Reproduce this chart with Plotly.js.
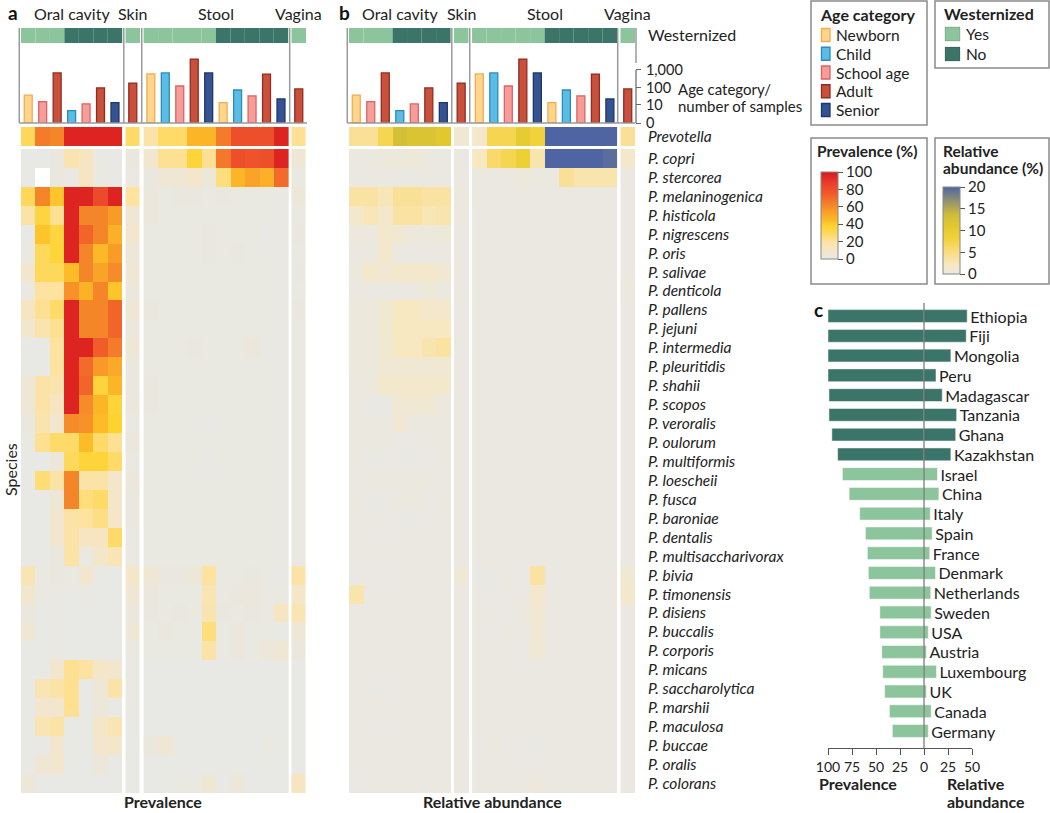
<!DOCTYPE html>
<html>
<head>
<meta charset="utf-8">
<script src="https://cdn.plot.ly/plotly-3.0.1.min.js"></script>
<style>
  html, body { margin: 0; padding: 0; background: #fff; }
  #chart { width: 1050px; height: 813px; }
</style>
</head>
<body>
<div id="chart"></div>
<script>
// columns of the two heatmaps: body site, age group, westernized or not
const sites = ['Oral cavity', 'Skin', 'Stool', 'Vagina'];
const siteOfColumn = [0, 0, 0, 0, 0, 0, 0, 1, 2, 2, 2, 2, 2, 2, 2, 2, 2, 2, 3];
const ageOfColumn = ['Newborn', 'School age', 'Adult', 'Child', 'School age', 'Adult', 'Senior',
  'Adult',
  'Newborn', 'Child', 'School age', 'Adult', 'Senior', 'Newborn', 'Child', 'School age', 'Adult', 'Senior',
  'Adult'];
const westernOfColumn = ['Yes', 'Yes', 'Yes', 'No', 'No', 'No', 'No',
  'Yes',
  'Yes', 'Yes', 'Yes', 'Yes', 'Yes', 'No', 'No', 'No', 'No', 'No',
  'Yes'];
const samplesPerColumn = [37, 15, 670, 4, 11, 95, 13, 180, 590, 670, 122, 4100, 670, 13, 72, 33, 580, 22, 83];
const ageCategories = ['Newborn', 'Child', 'School age', 'Adult', 'Senior'];
const westernCategories = ['Yes', 'No'];

const species = ['Prevotella', 'P. copri', 'P. stercorea', 'P. melaninogenica', 'P. histicola', 'P. nigrescens',
  'P. oris', 'P. salivae', 'P. denticola', 'P. pallens', 'P. jejuni', 'P. intermedia', 'P. pleuritidis',
  'P. shahii', 'P. scopos', 'P. veroralis', 'P. oulorum', 'P. multiformis', 'P. loescheii', 'P. fusca',
  'P. baroniae', 'P. dentalis', 'P. multisaccharivorax', 'P. bivia', 'P. timonensis', 'P. disiens',
  'P. buccalis', 'P. corporis', 'P. micans', 'P. saccharolytica', 'P. marshii', 'P. maculosa',
  'P. buccae', 'P. oralis', 'P. colorans'];

// prevalence (%) per species (rows) and column
const prevalence = [
  [30, 65, 62, 96, 96, 96, 96, 28, 18, 28, 28, 46, 46, 65, 80, 80, 80, 96, 22],
  [0, 0, 2, 16, 12, 1, 0, 2, 8, 22, 22, 36, 22, 66, 80, 78, 80, 96, 6],
  [0, null, 2, 1, 12, 1, 1, 1, 2, 6, 6, 9, 4, 25, 46, 52, 48, 70, 1],
  [30, 62, 42, 96, 96, 82, 96, 20, 3, 1, 2, 2, 1, 2, 1, 1, 1, 1, 4],
  [18, 35, 22, 96, 62, 62, 55, 6, 3, 1, 1, 1, 1, 1, 1, 1, 1, 1, 1],
  [0, 42, 35, 96, 72, 62, 48, 8, 1, 1, 1, 1, 2, 1, 1, 1, 0, 1, 2],
  [1, 30, 36, 96, 62, 45, 55, 4, 1, 1, 1, 1, 2, 1, 2, 1, 1, 1, 1],
  [8, 30, 30, 44, 62, 52, 60, 6, 1, 1, 1, 1, 1, 1, 1, 1, 1, 1, 2],
  [1, 20, 20, 58, 47, 62, 42, 3, 1, 1, 1, 1, 1, 1, 1, 1, 1, 1, 1],
  [12, 22, 28, 96, 62, 62, 72, 6, 2, 1, 1, 1, 1, 1, 1, 1, 1, 1, 2],
  [8, 16, 22, 96, 62, 62, 72, 3, 1, 1, 1, 1, 1, 1, 1, 1, 1, 1, 1],
  [0, 0, 20, 96, 96, 74, 65, 5, 1, 1, 1, 2, 1, 1, 1, 4, 0, 1, 1],
  [0, 0, 20, 96, 70, 56, 50, 2, 1, 1, 1, 1, 1, 1, 1, 1, 1, 1, 1],
  [5, 18, 16, 96, 72, 36, 46, 2, 2, 1, 1, 1, 1, 1, 1, 1, 1, 1, 1],
  [5, 18, 12, 96, 60, 46, 36, 3, 2, 1, 1, 1, 1, 1, 1, 1, 1, 1, 1],
  [2, 16, 8, 60, 58, 44, 38, 1, 1, 1, 1, 1, 0, 1, 1, 1, 1, 1, 1],
  [1, 22, 28, 28, 44, 28, 22, 3, 1, 1, 1, 1, 1, 1, 1, 1, 1, 1, 1],
  [0, 0, 4, 30, 36, 36, 28, 1, 1, 1, 1, 1, 0, 1, 1, 1, 1, 1, 1],
  [0, 26, 18, 62, 18, 18, 10, 3, 1, 1, 1, 1, 1, 1, 1, 1, 1, 1, 1],
  [0, 0, 5, 62, 25, 28, 10, 2, 1, 1, 1, 1, 1, 1, 1, 1, 1, 1, 1],
  [0, 0, 8, 18, 20, 24, 10, 2, 1, 1, 1, 1, 1, 1, 1, 1, 1, 1, 1],
  [0, 0, 8, 18, 12, 12, 28, 1, 1, 1, 1, 1, 1, 1, 1, 1, 1, 1, 1],
  [0, 0, 2, 18, 1, 10, 15, 1, 1, 1, 1, 1, 1, 1, 1, 1, 1, 1, 1],
  [15, 1, 2, 1, 8, 0, 0, 10, 6, 2, 2, 4, 20, 1, 1, 2, 1, 0, 18],
  [8, 1, 1, 0, 1, 0, 0, 6, 2, 1, 1, 1, 15, 1, 3, 3, 1, 1, 10],
  [2, 0, 1, 0, 0, 0, 0, 3, 2, 1, 2, 1, 16, 2, 1, 2, 1, 12, 15],
  [6, 0, 1, 0, 0, 0, 0, 5, 1, 2, 1, 1, 25, 1, 3, 1, 1, 0, 5],
  [0, 0, 1, 0, 0, 0, 0, 1, 1, 1, 1, 1, 18, 1, 3, 1, 4, 6, 3],
  [0, 0, 8, 22, 20, 10, 8, 1, 0, 0, 0, 0, 0, 0, 0, 0, 0, 0, 0],
  [0, 15, 18, 22, 0, 5, 18, 1, 0, 0, 0, 0, 0, 0, 0, 0, 0, 0, 0],
  [0, 8, 8, 22, 0, 4, 0, 1, 0, 0, 0, 0, 0, 0, 0, 0, 0, 0, 0],
  [0, 15, 18, 0, 0, 10, 15, 0, 0, 0, 0, 0, 0, 0, 0, 0, 0, 0, 0],
  [0, 0, 8, 0, 0, 8, 10, 0, 3, 6, 0, 0, 0, 0, 0, 0, 1, 0, 0],
  [0, 6, 8, 0, 0, 4, 0, 0, 0, 0, 0, 0, 0, 0, 0, 0, 0, 0, 0],
  [4, 0, 0, 0, 0, 0, 0, 0, 0, 0, 1, 1, 6, 0, 4, 0, 0, 0, 12]
];

// mean relative abundance (%) per species (rows) and column
const abundance = [
  [4, 4, 7, 13, 12, 12, 11, 1, 1.5, 7, 7, 10, 8, 21, 21, 21, 21, 21, 4],
  [0.3, 0.3, 0.5, 0.6, 0.8, 0.3, 0.3, 0.2, 2, 6, 7, 9, 3, 21, 21, 21, 21, 19.4, 1.5],
  [0.2, 0.2, 0.2, 0.2, 0.2, 0.2, 0.2, 0.2, 0.3, 0.3, 0.3, 0.6, 0.3, 0.3, 4, 3, 3, 3, 0.2],
  [3.5, 3.5, 2.5, 4, 4, 3.5, 3.5, 0.4, 0.3, 0.2, 0.2, 0.2, 0.2, 0.2, 0.2, 0.2, 0.2, 0.2, 0.2],
  [1.5, 2.5, 1.5, 3.5, 3.5, 2.5, 3, 0.3, 0.2, 0.2, 0.2, 0.2, 0.2, 0.2, 0.2, 0.2, 0.2, 0.2, 0.2],
  [0.5, 0.3, 1.5, 1, 0.5, 0.5, 0.6, 0.2, 0.2, 0.2, 0.2, 0.2, 0.2, 0.2, 0.2, 0.2, 0.2, 0.2, 0.2],
  [0.3, 0.3, 1.5, 0.2, 0.2, 0.2, 0.2, 0.2, 0.2, 0.2, 0.2, 0.2, 0.2, 0.2, 0.2, 0.2, 0.2, 0.2, 0.2],
  [0.5, 1.5, 1, 1.5, 1.5, 1.5, 1, 0.2, 0.2, 0.2, 0.2, 0.2, 0.2, 0.2, 0.2, 0.2, 0.2, 0.2, 0.2],
  [0.3, 0.2, 0.2, 0.2, 0.2, 0.8, 0.3, 0.2, 0.2, 0.2, 0.2, 0.2, 0.2, 0.2, 0.2, 0.2, 0.2, 0.2, 0.4],
  [0.5, 0.5, 1, 2, 2, 1.5, 1.5, 0.2, 0.2, 0.2, 0.2, 0.2, 0.2, 0.2, 0.2, 0.2, 0.2, 0.2, 0.2],
  [0.5, 0.5, 1.2, 2, 2, 2, 2, 0.2, 0.2, 0.2, 0.2, 0.2, 0.2, 0.2, 0.2, 0.2, 0.2, 0.2, 0.2],
  [0.5, 0.5, 1, 2, 2, 3, 3.5, 0.2, 0.2, 0.2, 0.2, 0.2, 0.2, 0.2, 0.2, 0.2, 0.2, 0.2, 0.2],
  [0.5, 0.5, 1, 1, 1, 1, 1, 0.2, 0.2, 0.2, 0.2, 0.2, 0.2, 0.2, 0.2, 0.2, 0.2, 0.2, 0.2],
  [0.3, 0.5, 1.5, 1.5, 1.5, 1.5, 1.5, 0.2, 0.2, 0.2, 0.2, 0.2, 0.2, 0.2, 0.2, 0.2, 0.2, 0.2, 0.2],
  [0.3, 0.1, 0.1, 1, 1, 1, 0.3, 0.2, 0.2, 0.2, 0.2, 0.2, 0.2, 0.2, 0.2, 0.2, 0.2, 0.2, 0.2],
  [0.3, 0.3, 0.3, 1, 0.3, 0.3, 0.3, 0.2, 0.2, 0.2, 0.2, 0.2, 0.2, 0.2, 0.2, 0.2, 0.2, 0.2, 0.2],
  [0.3, 0.3, 0.3, 0.1, 0.1, 0.3, 0.3, 0.2, 0.2, 0.2, 0.2, 0.2, 0.2, 0.2, 0.2, 0.2, 0.2, 0.2, 0.2],
  [0.3, 0.1, 0.1, 0.1, 0.1, 0.1, 0.3, 0.2, 0.2, 0.2, 0.2, 0.2, 0.2, 0.2, 0.2, 0.2, 0.2, 0.2, 0.2],
  [0.3, 0.3, 0.3, 0.3, 0.4, 0.3, 0.3, 0.2, 0.2, 0.2, 0.2, 0.2, 0.2, 0.2, 0.2, 0.2, 0.2, 0.2, 0.2],
  [0.3, 0.1, 0.1, 0.3, 0.4, 0.1, 0.3, 0.2, 0.2, 0.2, 0.2, 0.2, 0.2, 0.2, 0.2, 0.2, 0.2, 0.2, 0.2],
  [0.2, 0.2, 0.2, 0.1, 0.1, 0.2, 0.2, 0.2, 0.2, 0.2, 0.2, 0.2, 0.2, 0.2, 0.2, 0.2, 0.2, 0.2, 0.2],
  [0.2, 0.2, 0.1, 0.2, 0.2, 0.2, 0.2, 0.2, 0.2, 0.2, 0.2, 0.2, 0.2, 0.2, 0.2, 0.2, 0.2, 0.2, 0.2],
  [0.2, 0.2, 0.2, 0.2, 0.2, 0.2, 0.2, 0.2, 0.2, 0.2, 0.2, 0.2, 0.2, 0.2, 0.2, 0.2, 0.2, 0.2, 0.2],
  [0.1, 0.2, 0.1, 0.2, 0.2, 0.2, 0.2, 0.8, 0.1, 0.1, 0.2, 0.1, 3.5, 0.2, 0.2, 0.2, 0.2, 0.2, 1],
  [3, 0.2, 0.2, 0.2, 0.2, 0.2, 0.2, 0.2, 0.2, 0.1, 0.2, 0.2, 1.5, 0.2, 0.2, 0.2, 0.2, 0.2, 1.5],
  [0.2, 0.2, 0.2, 0.2, 0.2, 0.2, 0.2, 0.2, 0.2, 0.2, 0.1, 0.5, 1, 0.2, 0.2, 0.2, 0.2, 0.2, 0.2],
  [0.2, 0.2, 0.2, 0.2, 0.2, 0.2, 0.2, 0.2, 0.2, 0.1, 0.2, 0.2, 1, 0.2, 0.2, 0.2, 0.2, 0.2, 0.2],
  [0.2, 0.2, 0.2, 0.2, 0.2, 0.2, 0.2, 0.2, 0.2, 0.2, 0.2, 0.1, 1, 0.2, 0.2, 0.2, 0.2, 0.2, 0.2],
  [0.2, 0.2, 0.2, 0.2, 0.2, 0.2, 0.2, 0.2, 0.2, 0.2, 0.2, 0.2, 0.2, 0.2, 0.2, 0.2, 0.2, 0.2, 0.2],
  [0.2, 0.1, 0.1, 0.2, 0.2, 0.2, 0.2, 0.2, 0.2, 0.2, 0.2, 0.2, 0.2, 0.2, 0.2, 0.2, 0.2, 0.2, 0.2],
  [0.2, 0.2, 0.2, 0.2, 0.2, 0.2, 0.2, 0.2, 0.2, 0.2, 0.2, 0.2, 0.2, 0.2, 0.2, 0.2, 0.2, 0.2, 0.2],
  [0.2, 0.2, 0.1, 0.2, 0.2, 0.2, 0.2, 0.2, 0.2, 0.2, 0.2, 0.2, 0.2, 0.2, 0.2, 0.2, 0.2, 0.2, 0.2],
  [0.2, 0.2, 0.2, 0.2, 0.2, 0.2, 0.2, 0.2, 0.1, 0.4, 0.2, 0.1, 0.1, 0.2, 0.2, 0.2, 0.2, 0.2, 0.2],
  [0.2, 0.2, 0.3, 0.2, 0.2, 0.2, 0.2, 0.2, 0.2, 0.2, 0.2, 0.2, 0.2, 0.2, 0.2, 0.2, 0.2, 0.2, 0.2],
  [0.1, 0.2, 0.2, 0.2, 0.2, 0.2, 0.2, 0.2, 0.2, 0.2, 0.2, 0.2, 0.5, 0.2, 0.2, 0.2, 0.2, 0.2, 0.2]
];

// panel c
const countries = ['Ethiopia', 'Fiji', 'Mongolia', 'Peru', 'Madagascar', 'Tanzania', 'Ghana', 'Kazakhstan',
  'Israel', 'China', 'Italy', 'Spain', 'France', 'Denmark', 'Netherlands', 'Sweden', 'USA', 'Austria',
  'Luxembourg', 'UK', 'Canada', 'Germany'];
const countryWestern = ['No', 'No', 'No', 'No', 'No', 'No', 'No', 'No',
  'Yes', 'Yes', 'Yes', 'Yes', 'Yes', 'Yes', 'Yes', 'Yes', 'Yes', 'Yes', 'Yes', 'Yes', 'Yes', 'Yes'];
const countryPrevalence = [100, 100, 100, 100, 99, 99, 96, 90, 85, 78, 67, 61, 59, 58, 57, 46, 46, 44, 43, 41, 36, 33];
const countryAbundance = [45, 44, 28, 12.5, 19, 34, 33, 28, 14, 15.5, 6.5, 8.5, 6, 12, 7, 7.5, 4.5, 2.5, 13, 2.5, 7.5, 4.5];

// ---- styling ----
const FONT = 'Lato, "DejaVu Sans", sans-serif';
const W = 1050, H = 813;
const px = x => x / W;
const py = y => 1 - y / H;

const ageStyle = {
  'Newborn': { fill: '#fdd68c', line: '#f2ac54' },
  'Child': { fill: '#5bbde4', line: '#2a8bbf' },
  'School age': { fill: '#f59d9b', line: '#de6260' },
  'Adult': { fill: '#c7513c', line: '#952a1e' },
  'Senior': { fill: '#35548f', line: '#1d3570' }
};
const westColor = { 'Yes': '#8cc49b', 'No': '#3b7468' };

const prevScale = [[0, '#e8e8e4'], [0.1, '#f4e6c8'], [0.2, '#fde2a0'], [0.3, '#fed85a'], [0.38, '#fed330'],
  [0.45, '#fcb827'], [0.55, '#f89c28'], [0.65, '#f47b2a'], [0.75, '#f05a2a'], [0.85, '#ec432c'], [1, '#d7191c']];
const abunScale = [[0, '#e8e8e4'], [0.1, '#f7e8c2'], [0.25, '#fbdc82'], [0.4, '#f2d23a'], [0.55, '#e2c82e'],
  [0.68, '#cfbd3a'], [0.85, '#8c8f74'], [1, '#4f64a3']];

// column geometry (cells are one unit wide, small gaps between body sites)
const siteStart = [0, 7, 8, 18, 19];
const siteX0 = [0, 7.23, 8.48, 18.71];
const colX = siteOfColumn.map((s, i) => siteX0[s] + (i - siteStart[s]));
const logSamples = samplesPerColumn.map(n => Math.log10(n + 1));

const traces = [];

function addHeatmap(matrix, xa, ya, coloraxis) {
  sites.forEach((site, s) => {
    const a = siteStart[s], b = siteStart[s + 1];
    traces.push({
      type: 'heatmap', z: [matrix[0].slice(a, b)], x0: siteX0[s], dx: 1, y0: -1.16, dy: 1,
      xaxis: xa, yaxis: ya, coloraxis: coloraxis, hoverinfo: 'skip'
    });
    traces.push({
      type: 'heatmap', z: matrix.slice(1).map(r => r.slice(a, b)), x0: siteX0[s], dx: 1, y0: 0, dy: 1,
      xaxis: xa, yaxis: ya, coloraxis: coloraxis, hoverinfo: 'skip'
    });
  });
}
addHeatmap(prevalence, 'x', 'y', 'coloraxis');
addHeatmap(abundance, 'x2', 'y2', 'coloraxis2');

// sample-count bars + westernized strip, drawn above both heatmaps
[['x3', 'y3'], ['x4', 'y4']].forEach(([xa, ya]) => {
  westernCategories.forEach(w => {
    const idx = colX.map((_, i) => i).filter(i => westernOfColumn[i] === w);
    traces.push({
      type: 'bar', x: idx.map(i => colX[i]), y: idx.map(() => 0.85), base: 4.52, width: 1,
      marker: { color: westColor[w], line: { width: 0 } },
      name: w, showlegend: false, xaxis: xa, yaxis: ya, hoverinfo: 'skip'
    });
  });
  ageCategories.forEach(age => {
    const idx = colX.map((_, i) => i).filter(i => ageOfColumn[i] === age);
    traces.push({
      type: 'bar', x: idx.map(i => colX[i]), y: idx.map(i => logSamples[i]), width: 0.55,
      marker: { color: ageStyle[age].fill, line: { color: ageStyle[age].line, width: 1.3 } },
      name: age, showlegend: false, xaxis: xa, yaxis: ya,
      customdata: idx.map(i => samplesPerColumn[i]), hovertemplate: '%{customdata}<extra>' + age + '</extra>'
    });
  });
});

// panel c
const countryColors = countryWestern.map(w => westColor[w]);
traces.push({
  type: 'bar', orientation: 'h', y: countries, x: countryPrevalence.map(v => -v), width: 0.65,
  marker: { color: countryColors, line: { color: 'rgba(255,255,255,0.5)', width: 1 } },
  xaxis: 'x5', yaxis: 'y5', showlegend: false, name: 'Prevalence'
});
traces.push({
  type: 'bar', orientation: 'h', y: countries, x: countryAbundance, width: 0.65,
  marker: { color: countryColors, line: { color: 'rgba(255,255,255,0.5)', width: 1 } },
  text: countries, textposition: 'outside', constraintext: 'none', cliponaxis: false,
  textfont: { family: FONT, size: 16, color: '#222' },
  xaxis: 'x5', yaxis: 'y5', showlegend: false, name: 'Relative abundance'
});

const hidden = { visible: false, showgrid: false, zeroline: false, fixedrange: true };
const heatXRange = [-0.5, 19.21];
const heatYRange = [33.5, -1.66];
const barYRange = [0, 5.5];
const aDom = [px(21), px(306)];
const bDom = [px(349), px(635)];

// decorative lines around the sample-count bars (pixel positions)
const unitToPx = (u, left) => left + (u + 0.5) * 14.45;
const edgeUnits = [-0.62, 6.615, 7.855, 18.095];
const shapes = [];
const line = (x0, y0, x1, y1, color, width) => ({ type: 'line', xref: 'paper', yref: 'paper',
  x0: px(x0), x1: px(x1), y0: py(y0), y1: py(y1), line: { color: color, width: width } });
const rect = (x0, y0, x1, y1, fill, stroke, width) => ({ type: 'rect', xref: 'paper', yref: 'paper',
  x0: px(x0), x1: px(x1), y0: py(y1), y1: py(y0), fillcolor: fill, line: { color: stroke, width: width } });

[21, 349].forEach(left => {
  edgeUnits.forEach(u => {
    const xp = unitToPx(u, left);
    shapes.push(line(xp, 28, xp, 123, '#9a9a9a', 1.5));
  });
  shapes.push(line(unitToPx(-0.62, left), 123, left + 286, 123, '#9a9a9a', 1.5));
});
shapes.push(line(636, 70, 636, 123, '#666', 1.2));
shapes.push(line(636, 28, 636, 63, '#9a9a9a', 1.5));

// legend boxes
[[811, 1, 927, 125], [935, 1, 1049, 68], [811, 138, 927, 284], [935, 138, 1049, 284]].forEach(b => {
  shapes.push(rect(b[0], b[1], b[2], b[3], 'rgba(0,0,0,0)', '#8a8a8a', 1.5));
});

function ann(text, x, y, opts) {
  return Object.assign({ text: text, x: px(x), y: py(y), xref: 'paper', yref: 'paper', showarrow: false,
    xanchor: 'left', yanchor: 'middle', font: { family: FONT, size: 16, color: '#222' } }, opts || {});
}
const small = { family: FONT, size: 15, color: '#222' };

const annotations = [
  ann('<b>a</b>', 6, 12, { font: { family: FONT, size: 19, color: '#111' } }),
  ann('<b>b</b>', 337, 12, { font: { family: FONT, size: 19, color: '#111' } }),
  ann('<b>c</b>', 812, 310, { font: { family: FONT, size: 19, color: '#111' } }),
  ann('Westernized', 646, 35),
  ann('Age category/', 676, 89, { font: small }),
  ann('number of samples', 676, 106, { font: small }),
  ann('Species', 10, 470, { textangle: -90, xanchor: 'center' }),
  ann('<b>Prevalence</b>', 163, 801, { xanchor: 'center' }),
  ann('<b>Relative abundance</b>', 492, 801, { xanchor: 'center' }),
  ann('<b>Prevalence</b>', 817, 783),
  ann('<b>Relative</b>', 945, 783),
  ann('<b>abundance</b>', 945, 801),
  ann('<b>Age category</b>', 818, 15),
  ann('<b>Westernized</b>', 942, 14),
  ann('<b>Prevalence (%)</b>', 815, 151, { font: { family: FONT, size: 15.5, color: '#222' } }),
  ann('<b>Relative</b>', 941, 151, { font: { family: FONT, size: 15.5, color: '#222' } }),
  ann('<b>abundance (%)</b>', 941, 168, { font: { family: FONT, size: 15.5, color: '#222' } })
];

// legend entries: age category (tall swatches) and westernized (squares)
ageCategories.forEach((age, i) => {
  const yc = 35 + i * 18.75;
  shapes.push(rect(821.5, yc - 6.5, 830, yc + 6.5, ageStyle[age].fill, ageStyle[age].line, 1.3));
  annotations.push(ann(age, 834, yc, { font: { family: FONT, size: 15.5, color: '#222' } }));
});
westernCategories.forEach((w, i) => {
  const yc = 34 + i * 20;
  shapes.push(rect(945, yc - 7, 960, yc + 7, westColor[w], 'rgba(0,0,0,0.15)', 1));
  annotations.push(ann(w, 964, yc, { font: { family: FONT, size: 15.5, color: '#222' } }));
});

sites.forEach((site, s) => {
  const center = siteX0[s] + (siteStart[s + 1] - siteStart[s] - 1) / 2;
  ['x3', 'x4'].forEach(xa => {
    annotations.push({ text: site, x: center, xref: xa, y: py(14), yref: 'paper', showarrow: false,
      xanchor: 'center', yanchor: 'middle', font: { family: FONT, size: 16, color: '#222' } });
  });
});

// zero line of panel c, on top of the bars
shapes.push({ type: 'line', xref: 'x5', yref: 'y5', x0: 0, x1: 0, y0: -0.66, y1: 21.86, layer: 'above',
  line: { color: '#555', width: 1 } });

const layout = {
  width: W, height: H,
  margin: { l: 0, r: 0, t: 0, b: 0 },
  paper_bgcolor: '#fff', plot_bgcolor: '#fff',
  font: { family: FONT, size: 15, color: '#222' },
  barmode: 'overlay',
  showlegend: false,
  coloraxis: {
    colorscale: prevScale, cmin: 0, cmax: 100,
    colorbar: {
      x: px(821), xanchor: 'left', y: py(259), yanchor: 'bottom', len: 87, lenmode: 'pixels',
      thickness: 17, thicknessmode: 'pixels', xpad: 0, ypad: 0, outlinewidth: 1, outlinecolor: '#888',
      ticks: 'outside', ticklen: 5, tickcolor: '#555', tickvals: [0, 20, 40, 60, 80, 100],
      tickfont: { family: FONT, size: 15, color: '#222' }, title: { text: '' }
    }
  },
  coloraxis2: {
    colorscale: abunScale, cmin: 0, cmax: 20,
    colorbar: {
      x: px(943), xanchor: 'left', y: py(274), yanchor: 'bottom', len: 87, lenmode: 'pixels',
      thickness: 17, thicknessmode: 'pixels', xpad: 0, ypad: 0, outlinewidth: 1, outlinecolor: '#888',
      ticks: 'outside', ticklen: 5, tickcolor: '#555', tickvals: [0, 5, 10, 15, 20],
      tickfont: { family: FONT, size: 15, color: '#222' }, title: { text: '' }
    }
  },
  xaxis: Object.assign({}, hidden, { domain: aDom, range: heatXRange, anchor: 'y' }),
  yaxis: Object.assign({}, hidden, { domain: [py(793), py(127)], range: heatYRange, anchor: 'x' }),
  xaxis2: Object.assign({}, hidden, { domain: bDom, range: heatXRange, anchor: 'y2' }),
  yaxis2: {
    domain: [py(793), py(127)], range: heatYRange, anchor: 'x2', side: 'right',
    showgrid: false, zeroline: false, showline: false, ticks: '', fixedrange: true,
    tickvals: [-1.16].concat(species.slice(1).map((_, i) => i)),
    ticktext: species.map(s => '<i>' + s + '</i>'),
    ticklabelstandoff: 12,
    tickfont: { family: FONT, size: 15.5, color: '#222' }
  },
  xaxis3: Object.assign({}, hidden, { domain: aDom, range: heatXRange, anchor: 'y3' }),
  yaxis3: Object.assign({}, hidden, { domain: [py(123), py(25.65)], range: barYRange, anchor: 'x3' }),
  xaxis4: Object.assign({}, hidden, { domain: bDom, range: heatXRange, anchor: 'y4' }),
  yaxis4: {
    domain: [py(123), py(25.65)], range: barYRange, anchor: 'x4', side: 'right',
    showgrid: false, zeroline: false, showline: false, fixedrange: true,
    ticks: 'outside', ticklen: 5, tickcolor: '#666', tickwidth: 1.2,
    tickvals: [0, Math.log10(11), Math.log10(101), Math.log10(1001)],
    ticktext: ['0', '10', '100', '1,000'],
    ticklabelstandoff: 2,
    tickfont: { family: FONT, size: 14.5, color: '#222' }
  },
  xaxis5: {
    domain: [px(828), px(972)], range: [-100, 50], anchor: 'y5', fixedrange: true,
    showgrid: false, zeroline: false, showline: true, linecolor: '#555', linewidth: 1,
    ticks: 'outside', ticklen: 6, tickcolor: '#555',
    tickvals: [-100, -75, -50, -25, 0, 25, 50], ticktext: ['100', '75', '50', '25', '0', '25', '50'],
    tickfont: { family: FONT, size: 14, color: '#222' }
  },
  yaxis5: Object.assign({}, hidden, { domain: [py(748), py(303)], type: 'category', range: [21.86, -0.66], anchor: 'x5' }),
  shapes: shapes,
  annotations: annotations
};

Plotly.newPlot('chart', traces, layout, { displayModeBar: false });
</script>
</body>
</html>
